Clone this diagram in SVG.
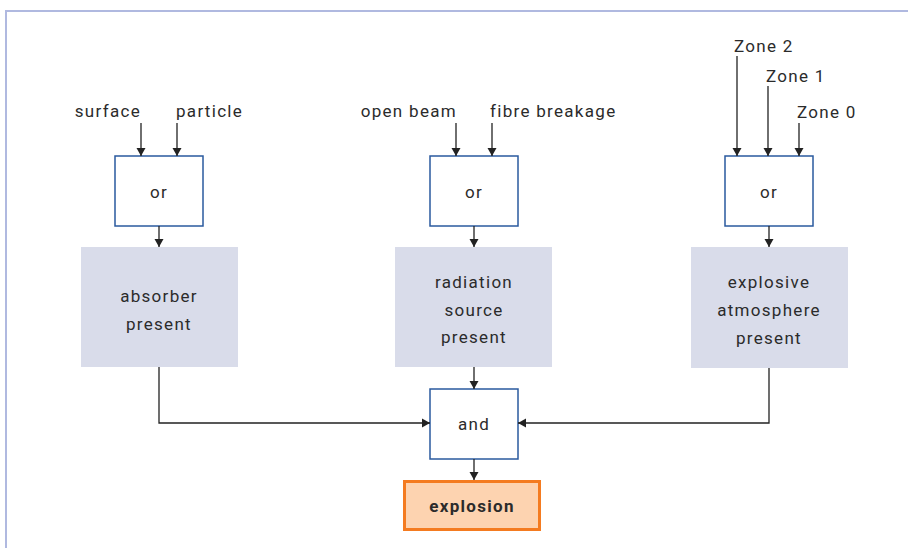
<svg xmlns="http://www.w3.org/2000/svg" width="908" height="548" viewBox="0 0 908 548">
<style>
text{font-family:Roboto,"Liberation Sans",sans-serif;font-size:17px;fill:#2b2b2b;letter-spacing:1.3px}
.c{text-anchor:middle}
.gate{fill:#fff;stroke:#2a5a9e;stroke-width:1.5}
.state{fill:#d9dcea}
.wire{fill:none;stroke:#222;stroke-width:1.3}
</style>
<defs>
<marker id="ah" markerUnits="userSpaceOnUse" markerWidth="8" markerHeight="12" refX="8" refY="6" orient="auto" viewBox="0 0 8 12">
<path d="M0,1.5 L8,6 L0,10.5 Z" fill="#222"/>
</marker>
</defs>
<path d="M6,548 V11 H908" fill="none" stroke="#b0b9e0" stroke-width="2"/>
<g id="in-left">
<text x="141" y="117" text-anchor="end">surface</text>
<text x="176" y="117">particle</text>
</g>
<g id="in-mid">
<text x="457" y="117" text-anchor="end">open beam</text>
<text x="490" y="117">fibre breakage</text>
</g>
<g id="in-right">
<text x="734" y="52">Zone 2</text>
<text x="766" y="82">Zone 1</text>
<text x="797" y="118">Zone 0</text>
</g>
<g id="or1"><rect class="gate" x="115" y="156" width="88" height="70"/><text class="c" x="159" y="198">or</text></g>
<g id="or2"><rect class="gate" x="430" y="156" width="88" height="70"/><text class="c" x="474" y="198">or</text></g>
<g id="or3"><rect class="gate" x="725" y="156" width="88" height="70"/><text class="c" x="769" y="198">or</text></g>
<g id="absorber"><rect class="state" x="81" y="247" width="157" height="120"/>
<text class="c" x="159" y="302">absorber</text><text class="c" x="159" y="330">present</text></g>
<g id="radiation"><rect class="state" x="395" y="247" width="157" height="120"/>
<text class="c" x="474" y="288">radiation</text><text class="c" x="474" y="316">source</text><text class="c" x="474" y="343">present</text></g>
<g id="atmosphere"><rect class="state" x="691" y="247" width="157" height="121"/>
<text class="c" x="769" y="288">explosive</text><text class="c" x="769" y="316">atmosphere</text><text class="c" x="769" y="344">present</text></g>
<g id="and"><rect class="gate" x="430" y="389" width="88" height="70"/><text class="c" x="474" y="430">and</text></g>
<g id="explosion"><rect x="404.5" y="481.5" width="135" height="48" fill="#fdd3b0" stroke="#f47b20" stroke-width="3"/>
<text class="c" x="472" y="512" style="font-weight:bold">explosion</text></g>
<g id="connectors">
<path class="wire" d="M141,123 V156" marker-end="url(#ah)"/>
<path class="wire" d="M177,123 V156" marker-end="url(#ah)"/>
<path class="wire" d="M456,123 V156" marker-end="url(#ah)"/>
<path class="wire" d="M492,123 V156" marker-end="url(#ah)"/>
<path class="wire" d="M737,56 V156" marker-end="url(#ah)"/>
<path class="wire" d="M768,86 V156" marker-end="url(#ah)"/>
<path class="wire" d="M799,123 V156" marker-end="url(#ah)"/>
<path class="wire" d="M159,226 V247" marker-end="url(#ah)"/>
<path class="wire" d="M474,226 V247" marker-end="url(#ah)"/>
<path class="wire" d="M769,226 V247" marker-end="url(#ah)"/>
<path class="wire" d="M474,367 V389" marker-end="url(#ah)"/>
<path class="wire" d="M159,367 V423 H430" marker-end="url(#ah)"/>
<path class="wire" d="M769,368 V423 H518" marker-end="url(#ah)"/>
<path class="wire" d="M474,459 V480" marker-end="url(#ah)"/>
</g>
</svg>
